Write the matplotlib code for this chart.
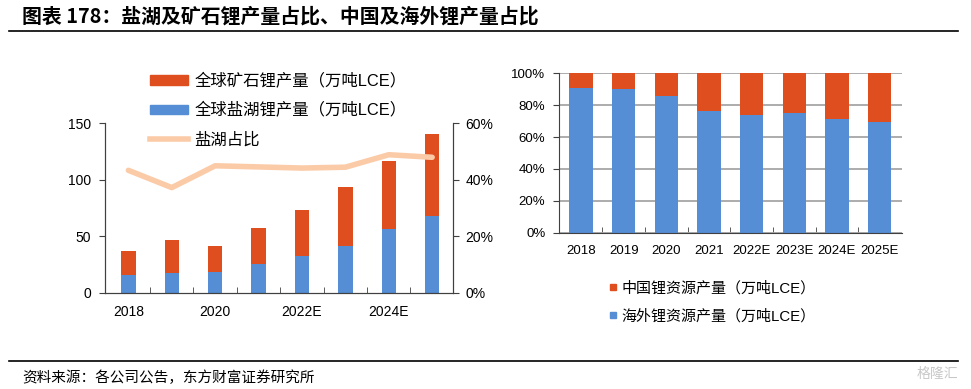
import matplotlib
matplotlib.use('Agg')
import matplotlib.pyplot as plt
from matplotlib.lines import Line2D
from matplotlib.patches import Patch
from matplotlib.ticker import FuncFormatter
import numpy as np

plt.rcParams['font.family'] = ['Liberation Sans', 'Noto Sans CJK SC', 'DejaVu Sans']

# Data
years = ['2018', '2019', '2020', '2021', '2022E', '2023E', '2024E', '2025E']
left_ticklabels = ['2018', '', '2020', '', '2022E', '', '2024E', '']
salt_lake = [15.6, 17.6, 18.5, 25.9, 32.6, 41.5, 56.2, 67.9]      # 万吨LCE
ore = [21.5, 29.4, 22.7, 31.7, 40.6, 52.3, 60.0, 72.1]            # 万吨LCE
salt_share = [43.3, 37.2, 44.9, 44.5, 44.1, 44.4, 48.8, 47.9]     # %
overseas_share = [91.0, 90.2, 85.8, 76.4, 73.8, 75.1, 71.3, 69.5]  # %
china_share = [9.0, 9.8, 14.2, 23.6, 26.2, 24.9, 28.7, 30.5]       # %

RED = '#DF4E1E'
BLUE = '#558ED5'
PEACH = '#FBCBA8'
AXC = '#404040'

fig = plt.figure(figsize=(9.71, 3.89), dpi=100)
x = np.arange(len(years))

# ---------------- left chart ----------------
ax = fig.add_axes([0.1081, 0.2468, 0.3584, 0.4370])
ax.bar(x, salt_lake, width=0.33, color=BLUE, zorder=2)
ax.bar(x, ore, width=0.33, bottom=salt_lake, color=RED, zorder=2)
ax.set_xlim(-0.54, 7.48)
ax.set_ylim(0, 150)
ax.set_yticks([0, 50, 100, 150])
ax.set_xticks(x)
ax.set_xticklabels(left_ticklabels)
ax.set_xticks(x[:-1] + 0.5, minor=True)
ax.tick_params(axis='x', which='major', length=0, pad=9, labelsize=10, colors='#000000')
ax.tick_params(axis='x', which='minor', length=4, direction='in', color=AXC)
ax.tick_params(axis='y', length=4, pad=6, labelsize=10, color=AXC)
ax.spines['top'].set_visible(False)
for s in ['left', 'bottom', 'right']:
    ax.spines[s].set_color(AXC)

ax2 = ax.twinx()
ax2.plot(x, salt_share, color=PEACH, lw=4, solid_capstyle='round', zorder=3)
ax2.set_ylim(0, 60)
ax2.set_yticks([0, 20, 40, 60])
ax2.yaxis.set_major_formatter(FuncFormatter(lambda v, p: f'{v:.0f}%'))
ax2.tick_params(axis='y', length=4, pad=5, labelsize=10, color=AXC)
ax2.spines['top'].set_visible(False)
for s in ['left', 'bottom', 'right']:
    ax2.spines[s].set_color(AXC)

left_handles = [Patch(color=RED), Patch(color=BLUE),
                Line2D([0], [0], color=PEACH, lw=4)]
left_labels = ['全球矿石锂产量（万吨LCE）', '全球盐湖锂产量（万吨LCE）', '盐湖占比']
fig.legend(left_handles, left_labels, loc='center left',
           bbox_to_anchor=(150 / 971, 0.717), frameon=False,
           prop={'family': ['Liberation Sans', 'Noto Sans CJK SC'], 'size': 11.8},
           handlelength=2.3, handleheight=0.5, handletextpad=0.4,
           labelspacing=0.82, borderpad=0, borderaxespad=0)

# ---------------- right chart ----------------
bx = fig.add_axes([0.576, 0.4018, 0.3526, 0.4098])
bx.bar(x, overseas_share, width=0.55, color=BLUE, zorder=2)
bx.bar(x, china_share, width=0.55, bottom=overseas_share, color=RED, zorder=2)
bx.set_xlim(-0.51, 7.52)
bx.set_ylim(0, 100)
bx.set_yticks(np.arange(0, 101, 20))
bx.yaxis.set_major_formatter(FuncFormatter(lambda v, p: f'{v:.0f}%'))
bx.set_xticks(x)
bx.set_xticklabels(years)
bx.set_xticks(x[:-1] + 0.5, minor=True)
bx.tick_params(axis='x', which='major', length=0, pad=9, labelsize=9.5)
bx.tick_params(axis='x', which='minor', length=4, direction='in', color=AXC)
bx.tick_params(axis='y', length=4, pad=6, labelsize=9.5, color=AXC)
bx.grid(axis='y', color='#A6A6A6', lw=1.3, zorder=0)
bx.set_axisbelow(True)
for s in ['top', 'right']:
    bx.spines[s].set_visible(False)
for s in ['left', 'bottom']:
    bx.spines[s].set_color(AXC)

right_handles = [Line2D([0], [0], marker='s', ls='none', color=RED, markersize=4.5),
                 Line2D([0], [0], marker='s', ls='none', color=BLUE, markersize=4.5)]
right_labels = ['中国锂资源产量（万吨LCE）', '海外锂资源产量（万吨LCE）']
fig.legend(right_handles, right_labels, loc='center left',
           bbox_to_anchor=(609 / 971, 0.2226), frameon=False,
           prop={'family': ['Liberation Sans', 'Noto Sans CJK SC'], 'size': 10.8},
           handlelength=0.55, handletextpad=0.3, labelspacing=0.9,
           borderpad=0, borderaxespad=0)

# ---------------- title, rules, source ----------------
fig.text(22 / 971, 1 - 16 / 389, '图表 178：盐湖及矿石锂产量占比、中国及海外锂产量占比',
         fontsize=14.3, fontweight='bold', va='center', ha='left',
         family=['Noto Sans CJK SC', 'DejaVu Sans'])
fig.add_artist(Line2D([9 / 971, 958 / 971], [1 - 31 / 389, 1 - 31 / 389],
                      color='black', lw=1.2))
fig.add_artist(Line2D([9 / 971, 958 / 971], [1 - 361 / 389, 1 - 361 / 389],
                      color='black', lw=1.2))
fig.text(22 / 971, 1 - 378 / 389, '资料来源：各公司公告，东方财富证券研究所',
         fontsize=10.5, va='center', ha='left',
         family=['Noto Sans CJK SC', 'DejaVu Sans'])
fig.text(958 / 971, 1 - 374 / 389, '格隆汇', fontsize=10, color='#C8C8C8',
         va='center', ha='right', family=['Noto Sans CJK SC', 'DejaVu Sans'])

fig.savefig('out.png', dpi=100)
